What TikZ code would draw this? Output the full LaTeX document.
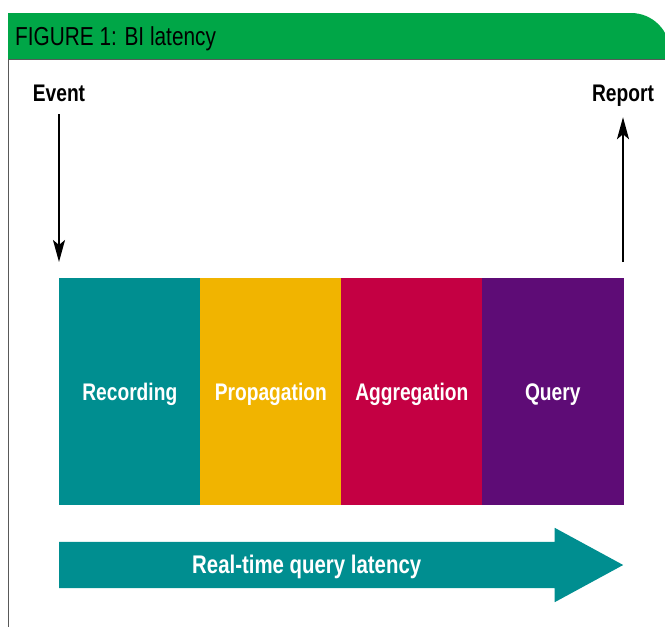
\documentclass[tikz,border=0pt]{standalone}
\usepackage{fontspec}
\usetikzlibrary{positioning, shapes.arrows, arrows.meta, calc}

\newfontfamily\cond[FakeStretch=0.8]{Liberation Sans}

\definecolor{hdrgreen}{RGB}{0,166,71}
\definecolor{recteal}{RGB}{0,142,144}
\definecolor{propyellow}{RGB}{241,180,0}
\definecolor{aggred}{RGB}{196,0,67}
\definecolor{querypurple}{RGB}{94,12,118}

\begin{document}
\begin{tikzpicture}[x=1pt, y=-1pt,
    boldtext/.style={font={\cond\bfseries\fontsize{24}{28}\selectfont},
        text height=17pt, text depth=0pt},
    stage/.style={rectangle, fill=#1, draw=#1, line width=0.6pt, outer sep=0pt,
        minimum width=141pt, minimum height=226.4pt, inner sep=0pt, text=white, boldtext},
    endlabel/.style={inner sep=0pt, boldtext},
    timeline/.style={-{Stealth[length=22pt, width=12pt, inset=5pt]}, line width=2pt}]
    \useasboundingbox (0,0) rectangle (665,627);

    % Header and frame
    \begin{scope}
        \clip (0,0) rectangle (665,627);
        \fill[hdrgreen] (8,59) -- (8,13) -- (631,13) arc[start angle=90, end angle=0, radius=39pt] -- (670,59) -- cycle;
    \end{scope}
    \draw[gray!70!black, line width=1pt] (8,627) -- (8,59) -- (665,59);
    \node[anchor=base west, inner sep=0pt, font={\cond\fontsize{26}{30}\selectfont}] (title) at (15,45) {FIGURE 1: BI latency};

    % Nodes
    \node[stage=recteal, anchor=north west] (rec) at (59.3,278.3) {Recording};
    \node[stage=propyellow, right=0pt of rec] (prop) {Propagation};
    \node[stage=aggred, right=0pt of prop] (agg) {Aggregation};
    \node[stage=querypurple, right=0pt of agg] (query) {Query};

    \node[endlabel, anchor=base] (event) at (59,101) {Event};
    \node[endlabel, anchor=base] (report) at (623,101) {Report};
    \coordinate (in) at (59,262);
    \coordinate (out) at (623,262);

    \draw[timeline, shorten <=13pt] (event) -- (in);
    \draw[timeline, shorten >=16pt] (out) -- (report);

    % Latency arrow, text centred on the shaft
    \node[single arrow, fill=recteal, anchor=tail, minimum height=564pt, minimum width=74pt,
        single arrow head extend=14pt, single arrow tip angle=57, inner ysep=14.5pt,
        text height=17pt, text depth=0pt] (latency) at (59,565) {};
    \coordinate (shaftmid) at ($(latency.tail)!0.5!(latency.before head)$);
    \node[boldtext, font={\cond\bfseries\fontsize{25.5}{30}\selectfont}, text=white, inner sep=0pt]
        (latext) at (shaftmid |- latency.tail) {Real-time query latency};
\end{tikzpicture}
\end{document}
